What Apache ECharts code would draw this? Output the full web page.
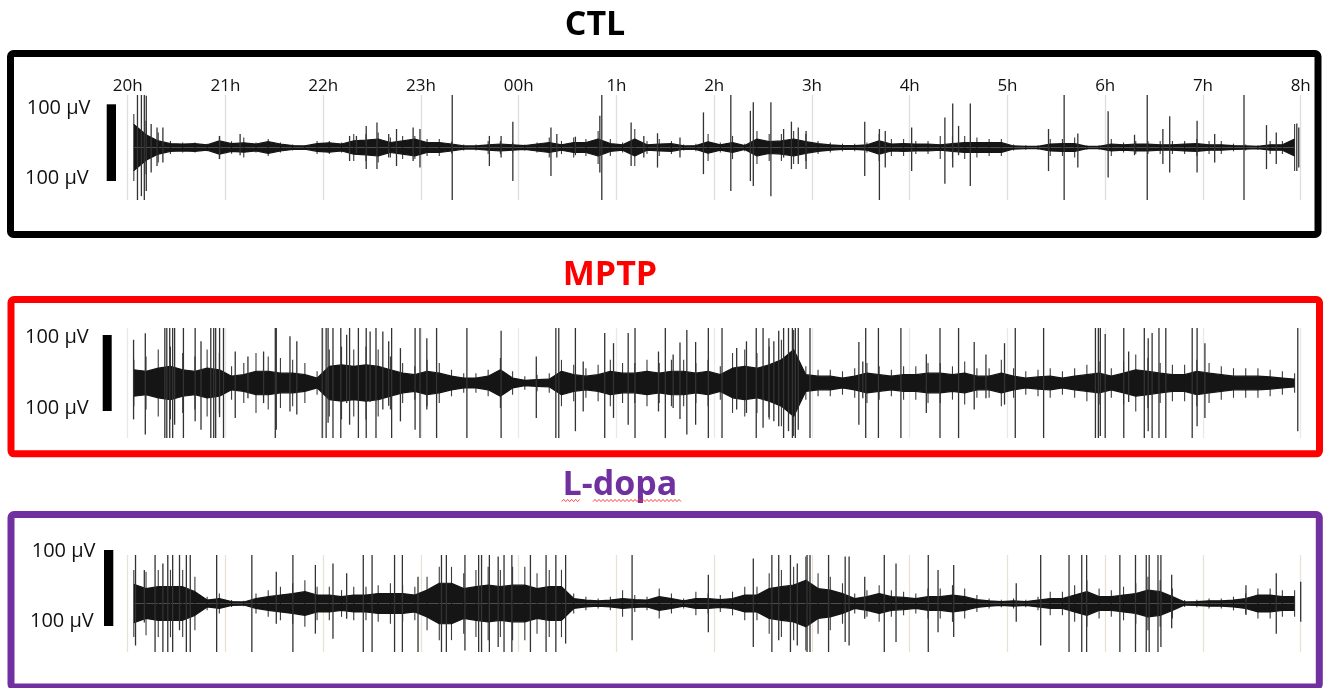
<!DOCTYPE html>
<html><head><meta charset="utf-8">
<script src="https://cdn.jsdelivr.net/npm/echarts@6/dist/echarts.min.js"></script>
<style>html,body{margin:0;padding:0;background:#fff}#c{width:1323px;height:688px}</style>
</head><body><div id="c"></div>
<script>
// ---------- DATA ----------
const hourLabels = ['20h','21h','22h','23h','00h','1h','2h','3h','4h','5h','6h','7h','8h'];
const panelTitles = ['CTL','MPTP','L-dopa'];
const scaleLabel = '100 \u00b5V';
const binHours = 0.125; // bins of 7.5 min, 20h = 0

// CTL: half-amplitude of the dense trace (µV) per bin
const ctlEnvelope = [60,33,17,10,9,10,7,17,10,12,9,15,9,5,4,10,12,9,17,19,22,13,17,22,
  13,13,9,4,4,7,9,7,5,9,13,7,13,13,22,10,7,22,7,9,10,4,5,15,
  7,13,5,22,15,17,22,15,10,7,5,5,7,17,9,10,9,9,7,10,13,13,13,13,
  4,3,3,9,10,10,3,3,9,7,9,9,7,7,9,10,7,7,5,4,3,7,7,22];
// CTL: reach of the thin fringe around the dense trace (µV) per bin
const ctlFringe = [87,69,39,17,13,13,10,30,16,26,13,22,13,8,6,17,17,13,35,35,39,26,30,30,
  22,22,15,8,8,17,17,13,8,13,26,17,26,22,43,22,13,48,17,22,17,8,10,35,
  13,30,10,43,35,35,43,35,17,13,10,10,13,35,22,22,17,17,30,30,30,26,22,22,
  8,6,6,22,22,26,6,6,22,13,17,17,17,17,17,22,17,17,10,8,6,17,17,61];
// isolated spikes: [hour from 20h, up µV, down µV]
const ctlSpikes = [[0.10,136,136],[0.14,136,126],[0.17,136,136],[0.19,134,113],[0.24,61,65],[0.30,52,48],[0.36,52,39],
  [0.94,30,30],[1.15,35,20],
  [2.27,30,35],[2.34,30,15],[2.44,56,56],[2.55,65,56],[2.67,35,26],[2.75,48,48],[2.92,52,35],[2.99,48,52],
  [3.32,136,136],[3.70,30,48],[3.82,30,26],[3.94,67,87],
  [4.33,52,74],[4.39,35,26],[4.58,28,20],[4.83,82,65],[4.85,136,136],
  [5.15,65,48],[5.28,30,26],[5.42,37,52],[5.65,26,26],[5.89,91,69],
  [6.17,136,113],[6.37,95,87],[6.40,117,100],[6.58,117,126],[6.71,48,26],[6.79,67,56],[6.86,52,43],[6.94,43,56],
  [7.54,67,74],[7.69,48,136],[7.75,43,52],
  [8.02,52,61],[8.36,78,94],[8.44,114,52],[8.50,56,20],[8.62,114,100],
  [9.42,48,61],[9.58,136,136],[9.72,36,52],
  [10.03,94,78],[10.30,33,20],[10.43,136,136],[10.59,48,43],[10.66,81,65],[10.94,69,65],
  [11.12,35,39],[11.42,136,136],[11.65,58,56],[11.75,39,43],[11.96,62,61],[11.98,52,52]];

const mptpEnvelope = [35,31,39,44,35,31,39,35,18,22,31,31,26,26,22,13,44,48,44,48,44,35,26,22,
  31,26,18,13,13,18,35,13,7,9,10,31,22,18,22,31,26,26,31,26,31,31,26,31,
  22,39,44,39,48,61,88,22,18,18,13,18,26,22,18,22,22,26,26,22,26,18,18,26,
  18,13,16,18,13,18,22,26,18,26,35,31,26,22,22,31,26,22,18,18,18,16,13,10];
const mptpFringe = [61,70,88,96,79,70,88,79,44,53,79,70,66,61,53,31,88,96,88,96,88,70,53,44,
  61,53,35,26,26,35,66,31,18,22,26,61,48,39,48,61,53,53,61,53,61,61,53,61,
  44,79,88,79,96,114,140,44,35,35,31,39,53,44,35,44,44,53,53,44,57,39,39,61,
  39,31,35,39,31,39,48,57,39,57,75,66,53,48,48,61,53,44,39,39,39,35,31,26];
const mptpSpikes = [[0.06,114,96],[0.18,131,136],[0.38,145,145],[0.40,145,145],[0.43,145,145],[0.46,145,145],[0.48,145,110],[0.57,145,145],[0.69,145,101],[0.75,110,123],[0.85,145,145],[0.88,145,145],[0.90,145,145],[0.94,145,90],[0.98,145,145],
  [1.10,83,92],[1.23,70,40],[1.39,83,53],[1.51,145,145],[1.52,145,123],[1.66,123,75],[1.73,110,83],[1.99,145,145],
  [2.03,145,145],[2.05,145,105],[2.10,145,145],[2.18,145,145],[2.24,127,53],[2.27,145,110],[2.36,145,145],[2.44,145,145],[2.48,136,50],[2.54,145,145],[2.61,136,70],[2.67,110,60],[2.70,145,145],[2.79,92,101],[2.94,145,123],[2.99,145,145],
  [3.06,118,70],[3.16,145,145],[3.47,145,145],[3.82,138,145],
  [4.18,70,92],[4.38,145,145],[4.41,145,145],[4.58,145,127],[4.66,57,75],[4.88,132,145],[4.97,105,92],
  [5.12,132,110],[5.19,145,145],[5.43,83,75],[5.50,145,145],[5.58,75,66],[5.65,107,95],[5.72,140,136],[5.81,108,110],[5.94,145,145],
  [6.08,145,145],[6.23,92,70],[6.33,110,79],[6.43,145,145],[6.50,145,118],[6.56,118,90],[6.61,110,101],[6.66,138,114],[6.71,145,145],[6.76,145,127],[6.80,145,145],[6.83,145,145],[6.86,145,123],[6.98,145,145],
  [7.48,108,110],[7.52,57,40],[7.55,145,145],[7.68,145,145],[7.91,145,145],
  [8.17,76,79],[8.31,145,145],[8.50,145,145],[8.66,108,70],[8.78,75,40],[8.97,105,57],
  [9.08,145,145],[9.37,145,145],[9.90,145,145],[9.93,145,145],[9.95,145,140],
  [10.00,129,145],[10.19,145,145],[10.24,83,50],[10.40,145,145],[10.44,118,127],[10.48,132,145],[10.55,145,145],[10.62,145,145],[10.89,145,145],[10.94,145,114],
  [11.02,105,92],[11.97,145,127]];

const ldopaEnvelope = [50,39,44,44,44,31,9,13,5,4,13,18,22,26,31,22,22,18,22,22,26,26,26,22,
  35,53,53,39,44,48,44,48,48,39,44,44,13,9,7,9,13,10,9,18,13,7,13,13,
  10,13,22,22,39,44,48,61,39,35,26,13,18,26,18,16,13,18,18,22,18,10,7,5,
  7,5,9,13,13,22,31,18,18,22,26,35,31,18,4,5,7,7,9,13,22,22,18,18];
const ldopaFringe = [88,83,88,88,88,70,18,26,9,7,26,35,44,53,61,44,44,35,44,44,48,53,48,44,
  70,96,96,79,88,96,88,96,96,79,88,88,26,18,13,18,35,22,18,39,26,13,31,26,
  22,31,44,44,79,88,96,123,79,70,53,26,35,48,35,31,26,39,39,48,39,22,13,10,
  13,10,18,31,31,48,61,39,35,44,53,70,61,39,9,10,13,13,18,26,39,39,35,35];
const ldopaSpikes = [[0.08,127,110],[0.17,88,50],[0.28,127,127],[0.36,105,127],[0.41,127,127],[0.46,127,127],[0.53,127,70],[0.60,127,127],[0.64,127,127],[0.91,127,127],
  [1.27,127,127],[1.52,83,53],[1.69,127,127],[1.92,101,79],
  [2.10,105,92],[2.24,79,40],[2.41,127,127],[2.50,127,127],[2.73,127,127],[2.81,127,127],[2.97,70,127],
  [3.21,127,127],[3.26,127,127],[3.45,127,123],[3.59,127,127],[3.62,127,127],[3.70,127,127],[3.79,123,114],[3.85,127,127],[3.93,127,127],
  [4.12,127,127],[4.28,127,127],[4.38,127,127],[4.48,127,105],
  [5.16,127,96],[5.94,75,75],
  [6.40,118,114],[6.59,127,127],[6.66,127,96],[6.78,127,127],[6.85,105,110],[6.95,127,127],[6.98,127,127],
  [7.17,127,127],[7.34,123,101],[7.38,123,110],[7.54,70,40],[7.74,127,127],[7.86,105,101],
  [8.19,127,127],[8.29,88,75],[8.45,101,88],
  [9.09,53,48],[9.34,127,110],[9.63,127,127],[9.76,127,127],[9.81,127,127],
  [10.15,127,127],[10.31,127,127],[10.42,127,127],[10.45,127,127],[10.54,127,127],[10.57,127,114],[10.68,75,65],
  [11.44,48,30],[11.75,79,79],[12.0,57,48]];

// ---------- LAYOUT ----------
const panels = [
  {env: ctlEnvelope, fringe: ctlFringe, spikes: ctlSpikes, top: 95, height: 105, ymax: 136, grid: '#dedede', frame: '#000000',
   rect: {x: 10.5, y: 53.5, w: 1307.5, h: 181}, title: {x: 595, y: 25, color: '#000000'},
   bar: {x: 106.7, y: 104.3, w: 9.3, h: 76.7}, lab: [[26.7, 108.5], [25, 178.5]]},
  {env: mptpEnvelope, fringe: mptpFringe, spikes: mptpSpikes, top: 328, height: 110, ymax: 145, grid: '#e8e8e8', frame: '#ff0000',
   rect: {x: 11, y: 299.5, w: 1308.5, h: 154.3}, title: {x: 610, y: 275, color: '#ff0000'},
   bar: {x: 102.7, y: 335, w: 9, h: 76}, lab: [[25, 337], [25, 408.5]]},
  {env: ldopaEnvelope, fringe: ldopaFringe, spikes: ldopaSpikes, top: 555, height: 97, ymax: 127, grid: '#e6e2d4', frame: '#7030a0',
   rect: {x: 11, y: 514.5, w: 1308.3, h: 172.5}, title: {x: 620, y: 485, color: '#7030a0'},
   bar: {x: 104, y: 550, w: 9.3, h: 76}, lab: [[31.7, 551], [30, 621]]}
];

const spikeRender = (params, api) => {
  const h = api.value(0);
  const a = api.coord([h, api.value(1)]);
  const b = api.coord([h, -api.value(2)]);
  return {type: 'line', shape: {x1: a[0], y1: a[1], x2: b[0], y2: b[1]},
    style: {stroke: '#333', lineWidth: 1.3}};
};
// thin fringe hair at each bin centre
const fringeRender = (params, api) => {
  const h = api.value(0), r = api.value(1);
  const a = api.coord([h, r]);
  const b = api.coord([h, -r]);
  return {type: 'line', shape: {x1: a[0], y1: a[1], x2: b[0], y2: b[1]},
    style: {stroke: '#3c3c3c', lineWidth: 1.1}};
};

const grids = [], xAxes = [], yAxes = [], series = [], graphics = [];
panels.forEach((p, i) => {
  grids.push({left: 127.7, width: 1173, top: p.top, height: p.height});
  xAxes.push({
    type: 'value', gridIndex: i, min: 0, max: 12, interval: 1, position: 'top',
    axisLine: {show: false}, axisTick: {show: false},
    axisLabel: {show: i === 0, margin: 0, color: '#111', fontFamily: 'Open Sans', fontSize: 17,
      showMinLabel: true, showMaxLabel: true, formatter: v => hourLabels[Math.round(v)]},
    splitLine: {show: true, lineStyle: {color: p.grid, width: 1.3}}
  });
  yAxes.push({type: 'value', gridIndex: i, min: -p.ymax, max: p.ymax, show: false});
  const mid = k => (k + 0.5) * binHours;
  series.push({
    type: 'custom', xAxisIndex: i, yAxisIndex: i, silent: true, z: 2,
    data: p.fringe.map((a, k) => [mid(k), a]), encode: {x: 0, y: 1}, renderItem: fringeRender
  });
  [1, -1].forEach(s => series.push({
    type: 'line', xAxisIndex: i, yAxisIndex: i, symbol: 'none', silent: true, z: 3,
    data: p.env.map((a, k) => [mid(k), s * a]),
    lineStyle: {color: '#151515', width: 1.2}, areaStyle: {color: '#151515', opacity: 1, origin: 0}
  }));
  series.push({
    type: 'custom', xAxisIndex: i, yAxisIndex: i, data: p.spikes, silent: true, z: 4,
    encode: {x: 0, y: [1, 2]}, renderItem: spikeRender
  });
  graphics.push({type: 'rect', shape: {x: p.rect.x, y: p.rect.y, width: p.rect.w, height: p.rect.h, r: 3},
    style: {fill: 'none', stroke: p.frame, lineWidth: 7}, silent: true});
  graphics.push({type: 'text', x: p.title.x, y: p.title.y, silent: true,
    style: {text: panelTitles[i], fill: p.title.color, font: 'bold 34px "Open Sans"', align: 'center', verticalAlign: 'middle'}});
  graphics.push({type: 'rect', shape: {x: p.bar.x, y: p.bar.y, width: p.bar.w, height: p.bar.h},
    style: {fill: '#000'}, silent: true});
  p.lab.forEach(([lx, ly]) => graphics.push({type: 'text', x: lx, y: ly, silent: true,
    style: {text: scaleLabel, fill: '#111', font: '20px "Open Sans"', align: 'left', verticalAlign: 'middle'}}));
});

// spell-check style wavy underline under "L-dopa"
[[561.7, 580], [593, 682.7]].forEach(([x0, x1]) => {
  const pts = [];
  for (let x = x0, j = 0; x <= x1; x += 2, j++) pts.push([x, 500.5 + (j % 2 ? -1.1 : 1.1)]);
  graphics.push({type: 'polyline', shape: {points: pts}, style: {stroke: '#ff3030', lineWidth: 0.9, fill: 'none'}, silent: true});
});

const chart = echarts.init(document.getElementById('c'), null, {renderer: 'canvas'});
chart.setOption({
  animation: false, backgroundColor: '#fff',
  grid: grids, xAxis: xAxes, yAxis: yAxes, series: series, graphic: graphics
});
</script></body></html>
